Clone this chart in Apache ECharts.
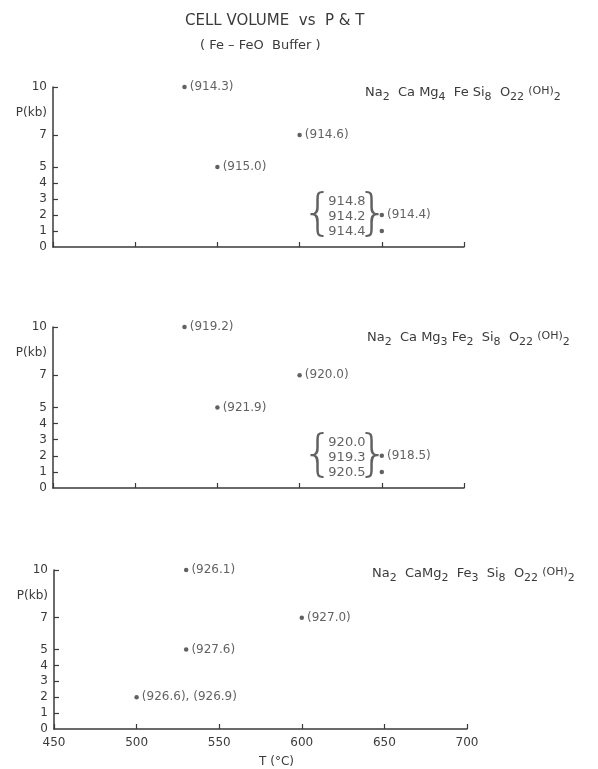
<!DOCTYPE html>
<html>
<head>
<meta charset="utf-8">
<script src="https://cdn.jsdelivr.net/npm/echarts@6/dist/echarts.min.js"></script>
<style>
  html, body { margin: 0; padding: 0; background: #fff; }
  #main { width: 598px; height: 769px; }
</style>
</head>
<body>
<div id="main"></div>
<script>
// ---- data ----
const xTicks = [450, 500, 550, 600, 650, 700];
const pTicks = [1, 2, 3, 4, 5, 7, 10];
const pLabels = [0, 1, 2, 3, 4, 5, 7, 8.4, 10]; // 8.4 carries "P(kb)"

// panel 1 : Na2 Ca Mg4 Fe Si8 O22 (OH)2
const t1 = [530, 550, 600, 650];
const p1 = [10, 5, 7, 2];
const v1 = ['(914.3)', '(915.0)', '(914.6)', '(914.4)'];
const grp1Point = [650, 1];
const grp1Vals = ['914.8', '914.2', '914.4'];

// panel 2 : Na2 Ca Mg3 Fe2 Si8 O22 (OH)2
const t2 = [530, 550, 600, 650];
const p2 = [10, 5, 7, 2];
const v2 = ['(919.2)', '(921.9)', '(920.0)', '(918.5)'];
const grp2Point = [650, 1];
const grp2Vals = ['920.0', '919.3', '920.5'];

// panel 3 : Na2 Ca Mg2 Fe3 Si8 O22 (OH)2
const t3 = [530, 530, 600, 500];
const p3 = [10, 5, 7, 2];
const v3 = ['(926.1)', '(927.6)', '(927.0)', '(926.6), (926.9)'];

const formulas = [
    'Na{s|2}  Ca Mg{s|4}  Fe Si{s|8}  O{s|22} {o|(OH)}{s|2}',
    'Na{s|2}  Ca Mg{s|3} Fe{s|2}  Si{s|8}  O{s|22} {o|(OH)}{s|2}',
    'Na{s|2}  CaMg{s|2}  Fe{s|3}  Si{s|8}  O{s|22} {o|(OH)}{s|2}'
];

const ink = '#3a3a3a';
const font = 'DejaVu Sans';

const grids = [
    { left: 53, top: 87, width: 411, height: 160 },
    { left: 53, top: 327, width: 411, height: 161 },
    { left: 54, top: 570, width: 413, height: 162 }
];

function xAxisFor(i) {
    const last = i === 2;
    return {
        type: 'value', gridIndex: i, min: 450, max: 700, interval: 50,
        axisLine: { show: true, lineStyle: { color: ink, width: 1.5 } },
        axisTick: { show: true, inside: true, length: 5, lineStyle: { color: ink, width: 1.2 } },
        axisLabel: { show: last, color: ink, fontFamily: font, fontSize: 12, margin: 8, customValues: xTicks },
        splitLine: { show: false },
        name: last ? 'T (°C)' : '',
        nameLocation: 'middle', nameGap: 27,
        nameTextStyle: { color: ink, fontFamily: font, fontSize: 12, padding: [0, 0, 0, 32] }
    };
}

function yAxisFor(i) {
    return {
        type: 'value', gridIndex: i, min: 0, max: 10, interval: 1,
        axisLine: { show: true, lineStyle: { color: ink, width: 1.5 } },
        axisTick: { show: true, inside: true, length: 5, customValues: pTicks, lineStyle: { color: ink, width: 1.2 } },
        axisLabel: {
            color: ink, fontFamily: font, fontSize: 12, margin: 6,
            customValues: pLabels,
            formatter: v => (v === 8.4 ? 'P(kb)' : String(v))
        },
        splitLine: { show: false }
    };
}

function pointSeries(i, ts, ps, vs) {
    return {
        type: 'scatter', xAxisIndex: i, yAxisIndex: i,
        symbolSize: 4.5, itemStyle: { color: ink },
        data: ts.map((t, k) => ({ value: [t, ps[k]], name: vs[k] })),
        label: {
            show: true, position: 'right', distance: 3,
            formatter: p => p.name,
            color: ink, fontFamily: font, fontSize: 12
        }
    };
}

// the braced triple of values next to the lower point at 650 °C
function groupSeries(i, pt, vals) {
    const brace = (txt, dist) => ({
        type: 'scatter', xAxisIndex: i, yAxisIndex: i,
        symbolSize: 0, silent: true,
        data: [pt],
        label: {
            show: true, position: 'left', distance: dist, offset: [0, -15],
            formatter: txt, color: ink, fontFamily: font, fontWeight: 200, fontSize: 50
        }
    });
    return [
        {
            type: 'scatter', xAxisIndex: i, yAxisIndex: i,
            symbolSize: 4.5, itemStyle: { color: ink },
            data: [pt],
            label: {
                show: true, position: 'left', distance: 14, offset: [0, -14],
                formatter: vals.join('\n'), lineHeight: 15,
                color: ink, fontFamily: font, fontSize: 13
            }
        },
        brace('{', 48),
        brace('}', -7)
    ];
}

const formulaRich = {
    s: { fontSize: 11, fontFamily: font, color: ink, padding: [9, 0, 0, 0], verticalAlign: 'bottom' },
    o: { fontSize: 11, fontFamily: font, color: ink, padding: [0, 0, 3, 0] }
};
const formulaTops = [78, 323, 559];
const formulaLefts = [360, 362, 367];

const chart = echarts.init(document.getElementById('main'));
chart.setOption({
    backgroundColor: '#fff',
    animation: false,
    title: [
        { text: 'CELL VOLUME  vs  P & T', left: 180, top: 9,
          textStyle: { color: ink, fontFamily: font, fontSize: 15, fontWeight: 'normal' } },
        { text: '( Fe – FeO  Buffer )', left: 195, top: 34,
          textStyle: { color: ink, fontFamily: font, fontSize: 13, fontWeight: 'normal' } }
    ].concat(formulas.map((f, i) => ({
        text: f, left: formulaLefts[i], top: formulaTops[i],
        textStyle: { color: ink, fontFamily: font, fontSize: 13, fontWeight: 'normal', rich: formulaRich }
    }))),
    grid: grids,
    xAxis: [0, 1, 2].map(xAxisFor),
    yAxis: [0, 1, 2].map(yAxisFor),
    series: [
        pointSeries(0, t1, p1, v1),
        ...groupSeries(0, grp1Point, grp1Vals),
        pointSeries(1, t2, p2, v2),
        ...groupSeries(1, grp2Point, grp2Vals),
        pointSeries(2, t3, p3, v3)
    ]
});
</script>
</body>
</html>
